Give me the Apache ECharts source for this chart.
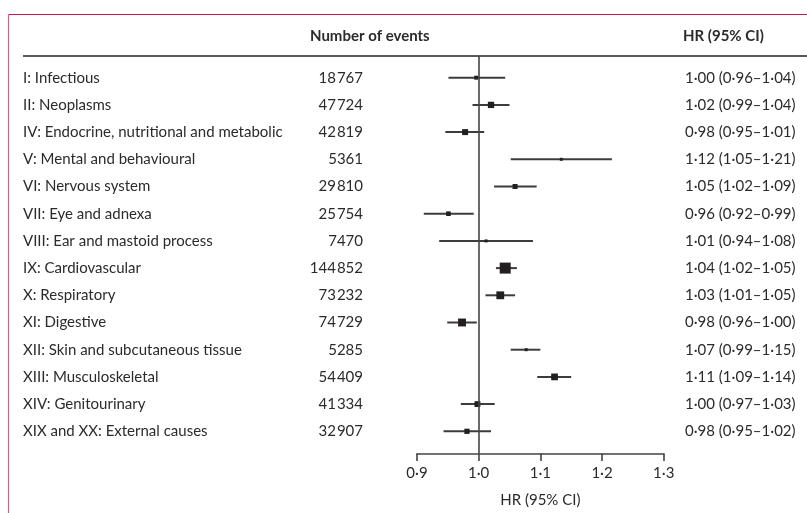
<!DOCTYPE html>
<html>
<head>
<meta charset="utf-8">
<script src="https://cdn.jsdelivr.net/npm/echarts@6/dist/echarts.min.js"></script>
<style>html,body{margin:0;padding:0;background:#fff}#c{width:807px;height:513px}</style>
</head>
<body>
<div id="c"></div>
<script>
var categories = [
  'I: Infectious',
  'II: Neoplasms',
  'IV: Endocrine, nutritional and metabolic',
  'V: Mental and behavioural',
  'VI: Nervous system',
  'VII: Eye and adnexa',
  'VIII: Ear and mastoid process',
  'IX: Cardiovascular',
  'X: Respiratory',
  'XI: Digestive',
  'XII: Skin and subcutaneous tissue',
  'XIII: Musculoskeletal',
  'XIV: Genitourinary',
  'XIX and XX: External causes'
];
var events = [18767, 47724, 42819, 5361, 29810, 25754, 7470, 144852, 73232, 74729, 5285, 54409, 41334, 32907];
var hrText = [
  '1·00 (0·96–1·04)',
  '1·02 (0·99–1·04)',
  '0·98 (0·95–1·01)',
  '1·12 (1·05–1·21)',
  '1·05 (1·02–1·09)',
  '0·96 (0·92–0·99)',
  '1·01 (0·94–1·08)',
  '1·04 (1·02–1·05)',
  '1·03 (1·01–1·05)',
  '0·98 (0·96–1·00)',
  '1·07 (0·99–1·15)',
  '1·11 (1·09–1·14)',
  '1·00 (0·97–1·03)',
  '0·98 (0·95–1·02)'
];
// values as drawn in the picture
var hr    = [0.996, 1.020, 0.978, 1.134, 1.059, 0.951, 1.012, 1.043, 1.035, 0.973, 1.077, 1.123, 0.998, 0.981];
var lower = [0.951, 0.990, 0.946, 1.052, 1.025, 0.911, 0.936, 1.028, 1.011, 0.949, 1.052, 1.095, 0.971, 0.943];
var upper = [1.043, 1.050, 1.009, 1.216, 1.094, 0.992, 1.088, 1.062, 1.059, 0.997, 1.100, 1.150, 1.026, 1.020];
var xTicks = [0.9, 1.0, 1.1, 1.2, 1.3];

function fmtEvents(n) {
  var s = String(n);
  if (s.length < 5) return s;
  return s.slice(0, s.length - 3) + '\u200A' + s.slice(s.length - 3);
}

var FONT = 'Lato';
var TXT = '#2b2b2b';
var FS = 15;
var maxEv = Math.max.apply(null, events);

var forestData = categories.map(function (c, i) {
  return [i, lower[i], upper[i], hr[i], events[i]];
});

var chart = echarts.init(document.getElementById('c'), null, {renderer: 'canvas'});
chart.setOption({
  animation: false,
  backgroundColor: '#fff',
  title: [
    {text: 'Number of events', left: 310, top: 29, padding: 0,
     textStyle: {fontFamily: FONT, fontSize: FS, fontWeight: 'bold', color: TXT}},
    {text: 'HR (95% CI)', left: 683, top: 29, padding: 0,
     textStyle: {fontFamily: FONT, fontSize: FS, fontWeight: 'bold', color: TXT}}
  ],
  graphic: [
    {type: 'line', shape: {x1: 8.5, y1: 14.5, x2: 807, y2: 14.5}, style: {stroke: '#c2204c', lineWidth: 1.2}},
    {type: 'line', shape: {x1: 8.5, y1: 14.5, x2: 8.5, y2: 513}, style: {stroke: '#dc5b82', lineWidth: 1.2}},
    {type: 'line', shape: {x1: 23, y1: 56, x2: 807, y2: 56}, style: {stroke: '#5a5a5a', lineWidth: 2}}
  ],
  grid: [
    {left: 417, right: 143.3, top: 64.1, bottom: 68.1},
    {left: 417, right: 143.3, top: 56, bottom: 58}
  ],
  xAxis: [
    {gridIndex: 0, type: 'value', min: 0.9, max: 1.3, interval: 0.1, show: false},
    {gridIndex: 1, type: 'value', min: 0.9, max: 1.3, interval: 0.1,
     splitLine: {show: false},
     axisLine: {lineStyle: {color: '#444', width: 1.6}},
     axisTick: {length: 7.5, lineStyle: {color: '#444', width: 1.6}},
     axisLabel: {margin: 12.5, fontFamily: FONT, fontSize: FS, color: TXT,
       formatter: function (v) { return v.toFixed(1).replace('.', '·'); }},
     name: 'HR (95% CI)', nameLocation: 'middle', nameGap: 39.5,
     nameTextStyle: {fontFamily: FONT, fontSize: FS, color: TXT}}
  ],
  yAxis: [
    {gridIndex: 0, type: 'category', inverse: true, data: categories, position: 'left',
     axisLine: {show: false}, axisTick: {show: false}, splitLine: {show: false},
     axisLabel: {align: 'left', margin: 394, fontFamily: FONT, fontSize: FS, color: TXT}},
    {gridIndex: 0, type: 'category', inverse: true, data: events.map(fmtEvents), position: 'left',
     axisLine: {show: false}, axisTick: {show: false}, splitLine: {show: false},
     axisLabel: {align: 'right', margin: 54, fontFamily: FONT, fontSize: FS, color: TXT}},
    {gridIndex: 0, type: 'category', inverse: true, data: hrText, position: 'right',
     axisLine: {show: false}, axisTick: {show: false}, splitLine: {show: false},
     axisLabel: {align: 'left', margin: 21.3, fontFamily: FONT, fontSize: FS, color: TXT}},
    {gridIndex: 1, type: 'value', min: 0, max: 1, show: false}
  ],
  series: [
    {
      type: 'line', xAxisIndex: 1, yAxisIndex: 3, data: [], silent: true,
      markLine: {
        silent: true, symbol: 'none', label: {show: false},
        lineStyle: {color: '#444', width: 1.6, type: 'solid'},
        data: [{xAxis: 1.0}]
      }
    },
    {
      type: 'custom', xAxisIndex: 0, yAxisIndex: 0, data: forestData, silent: true,
      renderItem: function (params, api) {
        var i = api.value(0);
        var p1 = api.coord([api.value(1), i]);
        var p2 = api.coord([api.value(2), i]);
        var pc = api.coord([api.value(3), i]);
        var s = Math.max(3, 11 * Math.sqrt(api.value(4) / maxEv));
        return {
          type: 'group',
          children: [
            {type: 'line', shape: {x1: p1[0], y1: p1[1], x2: p2[0], y2: p2[1]},
             style: {stroke: '#3c3c3c', lineWidth: 2}},
            {type: 'rect', shape: {x: pc[0] - s / 2, y: pc[1] - s / 2, width: s, height: s},
             style: {fill: '#231f20'}}
          ]
        };
      }
    }
  ]
});
</script>
</body>
</html>
